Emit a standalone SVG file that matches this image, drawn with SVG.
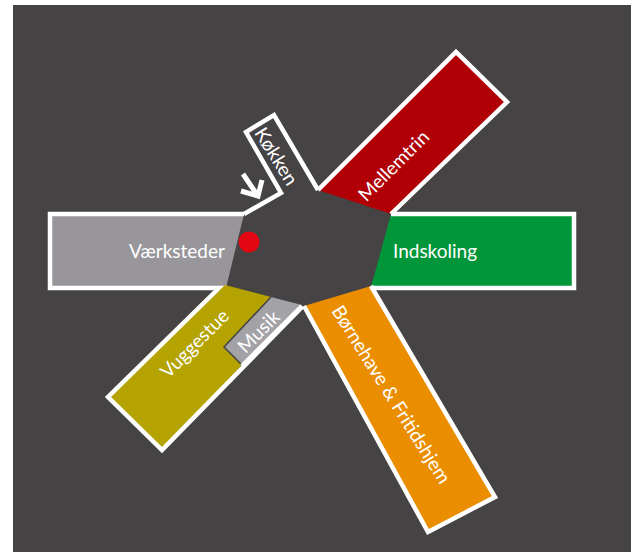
<svg xmlns="http://www.w3.org/2000/svg" width="631" height="552" viewBox="0 0 631 552">
<style>
.f{stroke:none}
.l{fill:none;stroke:#fff;stroke-width:4.5;stroke-linejoin:miter;stroke-linecap:butt}
text{font-family:"Lato","Open Sans",sans-serif;font-size:19px;fill:#fff;text-anchor:middle;dominant-baseline:central}
</style>
<rect width="631" height="552" fill="#fff"/>
<rect x="13" y="5" width="618" height="547" fill="#464345"/>
<g id="vaerksteder">
<polygon class="f" fill="#98969b" points="50,214 244,214 226,288 50,288"/>
<polyline class="l" points="244,214 50,214 50,288 226,288"/>
<text x="177" y="250">Værksteder</text>
</g>
<g id="koekken">
<polyline class="l" points="244,214 281,193 246,132 274,115 318,190"/>
<text transform="translate(277 156) rotate(58)" textLength="64" lengthAdjust="spacingAndGlyphs">Køkken</text>
</g>
<g id="mellemtrin">
<polygon class="f" fill="#b00006" points="318,190 456,52 507,102 391,214"/>
<polyline class="l" points="318,190 456,52 507,102 391,214"/>
<text transform="translate(393 165) rotate(-45)">Mellemtrin</text>
</g>
<g id="indskoling">
<polygon class="f" fill="#009639" points="391,214 574,214 574,288 371,287"/>
<polyline class="l" points="391,214 574,214 574,288 371,288"/>
<text x="435" y="250">Indskoling</text>
</g>
<g id="boernehave">
<polygon class="f" fill="#ea8e00" points="371,286 495,497 428,532 304,306"/>
<polyline class="l" points="371,286 495,497 428,532 304,306"/>
<text transform="translate(392 394) rotate(58)" textLength="206" lengthAdjust="spacingAndGlyphs">Børnehave &amp; Fritidshjem</text>
</g>
<g id="vuggestue">
<polygon class="f" fill="#b4a300" points="225,285 271,297 224,347 242,365 162,450 108,397"/>
<polyline class="l" points="218,289 108,397 162,450 302,307"/>
<text transform="translate(194 343) rotate(-45)">Vuggestue</text>
</g>
<g id="musik">
<polygon class="f" fill="#a3a2a7" points="271,297 302,305 242,365 224,347"/>
<polyline points="271,297 224,347 242,365" fill="none" stroke="#464345" stroke-width="1.5"/>
<polyline class="l" points="302,306 242,366"/>
<text transform="translate(258 331) rotate(-45)">Musik</text>
</g>
<g id="connectors">
<path d="M241 191 L258 196 L262 180 M258 196 L243 174" fill="none" stroke="#fff" stroke-width="5"/>
</g>
<circle id="marker" cx="249" cy="242" r="10.5" fill="#e30613"/>
</svg>
